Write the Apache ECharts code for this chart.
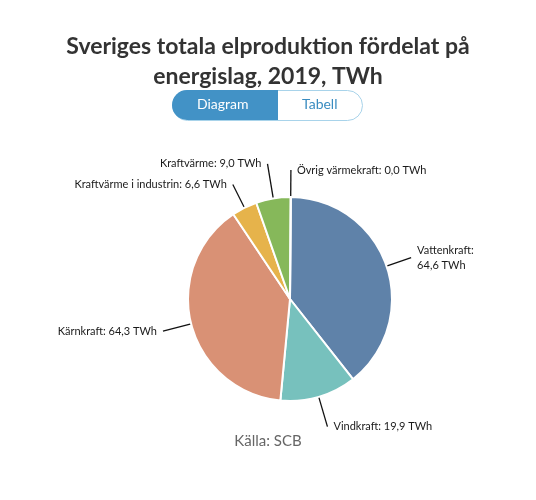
<!DOCTYPE html>
<html>
<head>
    <meta charset="UTF-8">
    <title>Elproduktion 2019</title>
    <script type="text/javascript" src="https://cdn.jsdelivr.net/npm/echarts@6/dist/echarts.min.js"></script>
    <style>
        html, body { margin: 0; padding: 0; background: #fff; }
    </style>
</head>
<body>
    <div id="main" style="width: 536px;height:500px;"></div>
    <script type="text/javascript">
        // energislag och värden (TWh)
        var categories = ['Vattenkraft', 'Vindkraft', 'Kärnkraft', 'Kraftvärme i industrin', 'Kraftvärme', 'Övrig värmekraft'];
        var values = [64.6, 19.9, 64.3, 6.6, 9.0, 0.0];
        var colors = ['#5f82a9', '#77c1bd', '#d99175', '#e6b34b', '#86b85a', '#9b7fb5'];

        var myChart = echarts.init(document.getElementById('main'));

        // längd på etikettlinjen per sektor
        var lineLen = [26, 31, 29, 26, 35, 27];

        var pieData = categories.map(function (name, i) {
            return {
                name: name,
                value: values[i],
                itemStyle: { color: colors[i] },
                labelLine: { length: lineLen[i] }
            };
        });

        function fmt(v) {
            return v.toFixed(1).replace('.', ',');
        }

        var option = {
            backgroundColor: '#fff',
            title: {
                text: 'Sveriges totala elproduktion fördelat på\nenergislag, 2019, TWh',
                left: 'center',
                top: 27,
                textStyle: {
                    fontFamily: 'Lato',
                    fontWeight: 'bold',
                    fontSize: 23,
                    lineHeight: 30,
                    color: '#333'
                }
            },
            graphic: [
                {
                    type: 'rect',
                    left: 172,
                    top: 90,
                    shape: { width: 190, height: 30, r: 15 },
                    style: { fill: '#fff', stroke: '#a8d3ea', lineWidth: 1 }
                },
                {
                    type: 'rect',
                    left: 172,
                    top: 90,
                    shape: { width: 106, height: 30, r: [15, 0, 0, 15] },
                    style: { fill: '#4292c6' }
                },
                {
                    type: 'text',
                    left: 197,
                    top: 97,
                    style: { text: 'Diagram', fill: '#fff', font: '14px Lato' }
                },
                {
                    type: 'text',
                    left: 302,
                    top: 97,
                    style: { text: 'Tabell', fill: '#3a8cc0', font: '14px Lato' }
                },
                {
                    type: 'text',
                    left: 'center',
                    top: 434,
                    style: { text: 'Källa: SCB', fill: '#666', font: '15px Lato' }
                }
            ],
            series: [
                {
                    type: 'pie',
                    center: [290, 299],
                    radius: 102,
                    // en aning under 90 så att nollsektorns etikett hamnar till höger
                    startAngle: 89.6,
                    clockwise: true,
                    avoidLabelOverlap: true,
                    minShowLabelAngle: 0,
                    itemStyle: { borderColor: '#fff', borderWidth: 2 },
                    label: {
                        color: '#1a1a1a',
                        fontFamily: 'Lato',
                        fontSize: 11,
                        lineHeight: 15,
                        distanceToLabelLine: 6,
                        formatter: function (p) {
                            if (p.name === 'Vattenkraft') {
                                return p.name + ':\n' + fmt(p.value) + ' TWh';
                            }
                            return p.name + ': ' + fmt(p.value) + ' TWh';
                        }
                    },
                    labelLine: {
                        length: 26,
                        length2: 0,
                        lineStyle: { color: '#111', width: 1.3 }
                    },
                    data: pieData
                }
            ]
        };

        myChart.setOption(option);
    </script>
</body>
</html>
